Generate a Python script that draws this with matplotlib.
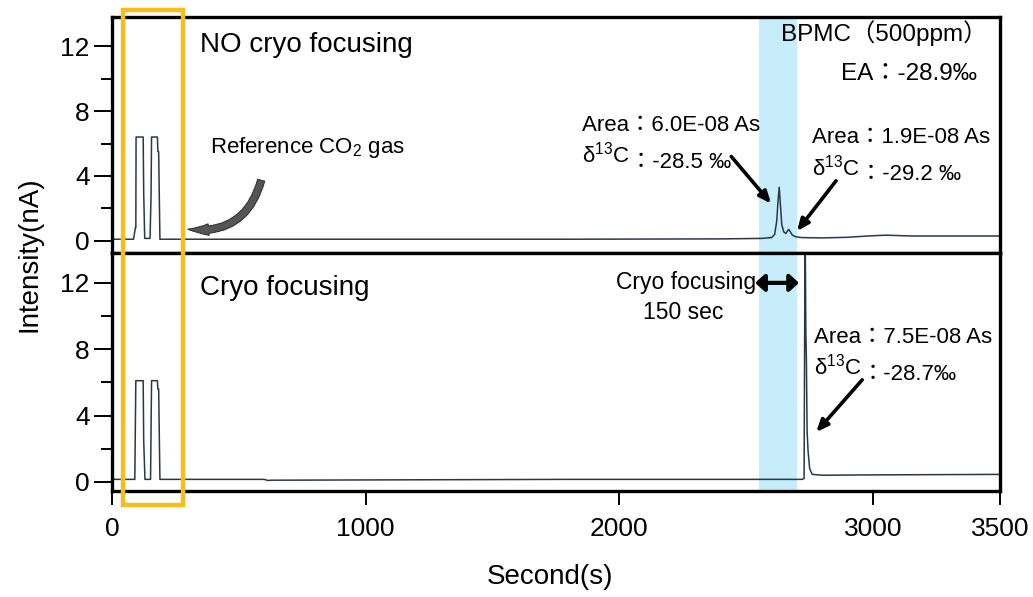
import matplotlib.pyplot as plt
from matplotlib.patches import Rectangle, FancyArrowPatch
from matplotlib.transforms import blended_transform_factory

plt.rcParams['font.family'] = ['Liberation Sans', 'Noto Sans CJK JP', 'DejaVu Sans']
plt.rcParams['mathtext.fontset'] = 'custom'
plt.rcParams['mathtext.rm'] = 'Liberation Sans'
plt.rcParams['mathtext.default'] = 'regular'

# trace without cryo focusing (seconds, nA)
time_top = [0, 85, 92, 94, 95, 123, 125, 129, 150, 154, 156, 179, 181, 184, 189,
            600, 1200, 1800, 2400, 2560, 2600, 2612, 2620, 2626, 2630, 2634, 2640,
            2648, 2656, 2662, 2668, 2674, 2682, 2695, 2720, 2800, 2900, 2980, 3050,
            3150, 3300, 3500]
int_top = [0.1, 0.1, 0.8, 0.8, 6.4, 6.4, 3.0, 0.15, 0.15, 2.8, 6.4, 6.4, 5.5, 5.5, 0.1,
           0.1, 0.1, 0.1, 0.12, 0.15, 0.2, 0.4, 1.2, 2.6, 3.3, 2.4, 1.0,
           0.55, 0.45, 0.6, 0.7, 0.55, 0.35, 0.25, 0.2, 0.18, 0.22, 0.3, 0.35,
           0.3, 0.3, 0.3]

# trace with cryo focusing
time_bot = [0, 90, 94, 123, 125, 130, 152, 156, 179, 181, 184, 189, 600, 615, 625,
            640, 1800, 2500, 2720, 2728, 2732, 2735, 2737, 2740, 2744, 2750, 2760,
            2800, 3000, 3500]
int_bot = [0.15, 0.15, 6.1, 6.1, 2.5, 0.15, 0.15, 6.1, 6.1, 5.6, 5.6, 0.15, 0.15, 0.08,
           0.1, 0.1, 0.15, 0.15, 0.15, 0.2, 16, 9, 7.5, 3, 1.8, 0.8, 0.45,
           0.4, 0.42, 0.45]

x_ticks = [0, 1000, 2000, 3000, 3500]
y_major = [0, 4, 8, 12]
y_minor = [2, 6, 10]
ref_window = (43, 280)
cryo_window = (2550, 2700)

line_color = '#283848'

fig = plt.figure(figsize=(10.33, 5.97), dpi=100)
ax1 = fig.add_axes([0.1084, 0.5762, 0.8596, 0.3953])
ax2 = fig.add_axes([0.1084, 0.1776, 0.8596, 0.3986])

for ax in (ax1, ax2):
    ax.set_xlim(0, 3500)
    ax.set_yticks(y_major)
    ax.set_yticks(y_minor, minor=True)
    ax.tick_params(axis='y', which='major', length=13, width=1.4, labelsize=19, pad=3)
    ax.tick_params(axis='y', which='minor', length=8, width=1.4)
    for s in ax.spines.values():
        s.set_linewidth(2.4)
    ax.axvspan(*cryo_window, color='#c6edf9', lw=0, zorder=0)

ax1.set_ylim(-0.75, 13.8)
ax2.set_ylim(-0.55, 13.8)
ax1.set_xticks([])
ax2.set_xticks(x_ticks)
ax2.tick_params(axis='x', length=10, width=1.4, labelsize=19, pad=9)

ax1.plot(time_top, int_top, color=line_color, lw=1.1)
ax2.plot(time_bot, int_bot, color=line_color, lw=1.1)

# reference gas box
box = Rectangle((ref_window[0], 0.154), ref_window[1] - ref_window[0], 0.829,
                transform=blended_transform_factory(ax2.transData, fig.transFigure),
                facecolor='none', edgecolor='#f2c01e', lw=3.2, zorder=6)
fig.patches.append(box)


def delta_label(ax, x, y, rest):
    t = ax.text(x, y, 'δ$^{13}$C', fontsize=16, va='baseline')
    ax.annotate('：' + rest, xy=(1, 0), xycoords=t, fontsize=16, va='baseline')


# top panel text
ax1.text(346, 12.1, 'NO cryo focusing', fontsize=20, va='center')
ax1.text(3449, 12.8, 'BPMC（500ppm）', fontsize=17.5, va='center', ha='right')
ax1.text(3409, 10.3, 'EA：-28.9‰', fontsize=17.5, va='center', ha='right')
ax1.text(386, 5.75, 'Reference CO$_2$ gas', fontsize=16, va='center')
ax1.text(1854, 7.1, 'Area：6.0E-08 As', fontsize=16, va='center')
delta_label(ax1, 1854, 4.8, '-28.5 ‰')
ax1.text(2760, 6.35, 'Area：1.9E-08 As', fontsize=16, va='center')
delta_label(ax1, 2760, 4.05, '-29.2 ‰')

arrow_kw = dict(arrowstyle='-|>,head_length=0.7,head_width=0.3', color='black', lw=2.6,
                shrinkA=0, shrinkB=0)
ax1.annotate('', xy=(2598, 2.3), xytext=(2441, 5.2), arrowprops=arrow_kw)
ax1.annotate('', xy=(2700, 0.6), xytext=(2854, 3.7), arrowprops=arrow_kw)

curved = FancyArrowPatch((591, 3.9), (288, 0.74), connectionstyle='arc3,rad=-0.45',
                         arrowstyle='simple,head_length=1.0,head_width=0.55,tail_width=0.35',
                         mutation_scale=15, facecolor='#555555', edgecolor='#333333',
                         lw=0.8, transform=ax1.transData)
ax1.add_patch(curved)

# bottom panel text
ax2.text(346, 11.7, 'Cryo focusing', fontsize=20, va='center')
ax2.text(2539, 12.0, 'Cryo focusing', fontsize=16.5, va='center', ha='right')
ax2.text(2252, 10.2, '150 sec', fontsize=16.5, va='center', ha='center')
ax2.annotate('', xy=(2708, 12.0), xytext=(2535, 12.0),
             arrowprops=dict(arrowstyle='<|-|>,head_length=0.55,head_width=0.5',
                             color='black', lw=3, shrinkA=0, shrinkB=0))
ax2.text(2768, 8.7, 'Area：7.5E-08 As', fontsize=16, va='center')
delta_label(ax2, 2768, 6.45, '-28.7‰')
ax2.annotate('', xy=(2776, 3.0), xytext=(2957, 6.15), arrowprops=arrow_kw)

fig.text(0.029, 0.575, 'Intensity(nA)', rotation=90, fontsize=20, va='center', ha='center')
fig.text(0.532, 0.034, 'Second(s)', fontsize=20, va='center', ha='center')

plt.savefig('out.png', dpi=100)
